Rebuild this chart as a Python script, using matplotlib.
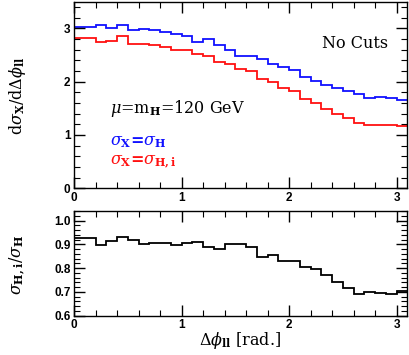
import numpy as np
import matplotlib
matplotlib.use('Agg')
import matplotlib.pyplot as plt
from matplotlib.ticker import MultipleLocator

plt.rcParams['mathtext.fontset'] = 'dejavuserif'
plt.rcParams['font.family'] = 'DejaVu Serif'

## bins of 0.1 rad in delta phi_ll, last one runs to pi
edges = list(np.round(np.linspace(0.0, 3.0, 31), 2)) + [np.pi]

## d sigma_H / d dphi  (blue)
sig_h = [3.03, 3.03, 3.06, 3.01, 3.06, 2.96, 2.99, 2.96, 2.93, 2.89,
         2.85, 2.74, 2.79, 2.69, 2.59, 2.48, 2.48, 2.42, 2.33, 2.28,
         2.22, 2.08, 2.01, 1.94, 1.88, 1.82, 1.77, 1.69, 1.71, 1.70,
         1.65]
## d sigma_H,i / d dphi  (red)
sig_hi = [2.81, 2.81, 2.75, 2.76, 2.85, 2.71, 2.70, 2.69, 2.65, 2.60,
          2.59, 2.51, 2.48, 2.36, 2.33, 2.23, 2.20, 2.04, 1.99, 1.88,
          1.83, 1.68, 1.59, 1.49, 1.39, 1.31, 1.22, 1.18, 1.19, 1.18,
          1.16]
## ratio sigma_H,i / sigma_H
ratio = [0.926, 0.926, 0.898, 0.914, 0.930, 0.917, 0.902, 0.908, 0.905, 0.898,
         0.908, 0.912, 0.888, 0.880, 0.902, 0.900, 0.888, 0.846, 0.855, 0.830,
         0.830, 0.806, 0.795, 0.770, 0.743, 0.718, 0.690, 0.700, 0.694, 0.692,
         0.704]

fig = plt.figure(figsize=(4.09, 3.55), dpi=100)
ax1 = fig.add_axes([0.181, 0.4696, 0.814, 0.526])
ax2 = fig.add_axes([0.181, 0.1107, 0.814, 0.2958])

ax1.stairs(sig_h, edges, baseline=0, color='#1010ff', lw=1.3)
ax1.stairs(sig_hi, edges, baseline=0, color='#ff1010', lw=1.3)
ax2.stairs(ratio, edges, baseline=None, color='black', lw=1.3)

ax1.set_xlim(0, 3.095)
ax1.set_ylim(0, 3.5)
ax2.set_xlim(0, 3.095)
ax2.set_ylim(0.6, 1.042)

ax1.yaxis.set_major_locator(MultipleLocator(1))
ax1.yaxis.set_minor_locator(MultipleLocator(0.2))
ax2.set_yticks([0.6, 0.7, 0.8, 0.9, 1.0])
ax2.set_yticklabels(['0.6', '0.7', '0.8', '0.9', '1.0'])
ax2.yaxis.set_minor_locator(MultipleLocator(0.02))

for ax in (ax1, ax2):
    ax.xaxis.set_major_locator(MultipleLocator(1))
    ax.xaxis.set_minor_locator(MultipleLocator(0.2))
    ax.tick_params(which='both', direction='in', top=True, right=True,
                   labelsize=8.5, pad=2.5)
    ax.tick_params(which='major', length=8, width=1)
    ax.tick_params(which='minor', length=4, width=0.8)
    for lab in ax.get_xticklabels() + ax.get_yticklabels():
        lab.set_fontfamily('Liberation Sans')
        lab.set_fontweight('bold')
    for s in ax.spines.values():
        s.set_linewidth(1.0)

ax1.text(2.61, 2.71, 'No Cuts', fontsize=11.5, ha='center', va='center')
ax1.text(0.33, 1.5, r'$\mu$=m$_{\mathbf{H}}$=120 GeV', fontsize=11.5,
         ha='left', va='center')
ax1.text(0.33, 0.87, r'$\sigma_\mathbf{X}$=$\sigma_\mathbf{H}$', fontsize=11.5,
         color='#1010ff', ha='left', va='center', fontweight='bold')
ax1.text(0.33, 0.50, r'$\sigma_\mathbf{X}$=$\sigma_\mathbf{H,i}$', fontsize=11.5,
         color='#ff1010', ha='left', va='center', fontweight='bold')

fig.text(0.042, 0.73, r'd$\sigma_\mathbf{X}$/d$\Delta\phi_\mathbf{ll}$',
         rotation=90, fontsize=11.5, ha='center', va='center')
fig.text(0.042, 0.255, r'$\sigma_\mathbf{H,i}$/$\sigma_\mathbf{H}$',
         rotation=90, fontsize=11.5, ha='center', va='center')
fig.text(0.588, 0.04, r'$\Delta\phi_\mathbf{ll}$ [rad.]', fontsize=11.5,
         ha='center', va='center')

fig.savefig('out.png', dpi=100)
